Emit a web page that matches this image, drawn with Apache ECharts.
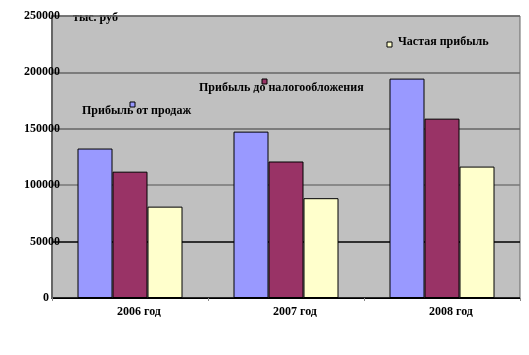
<!DOCTYPE html>
<html><head><meta charset="utf-8">
<script src="https://cdn.jsdelivr.net/npm/echarts@6/dist/echarts.min.js"></script>
<style>html,body{margin:0;padding:0;background:#fff}#c{width:529px;height:355px}</style>
</head><body><div id="c"></div>
<script>
const categories = ['2006 год', '2007 год', '2008 год'];
const seriesNames = ['Прибыль от продаж', 'Прибыль до налогообложения', 'Частая прибыль'];
const salesProfit = [132500, 147500, 194500];
const preTaxProfit = [112000, 121000, 159000];
const netProfit = [81000, 88500, 116500];
const unitLabel = 'тыс. руб';
const colors = ['#9999FF', '#993366', '#FFFFCC'];

const chart = echarts.init(document.getElementById('c'));
const font = 'Liberation Serif';
const mkSeries = (name, data, color) => ({
  name, type: 'bar', data, barWidth: 35, barGap: '0%',
  itemStyle: { color, borderColor: '#000', borderWidth: 1 }
});
chart.setOption({
  animation: false,
  grid: { left: 52, right: 9, top: 16, bottom: 57, show: true, backgroundColor: '#C0C0C0', borderColor: '#666', borderWidth: 1 },
  xAxis: {
    type: 'category', data: categories,
    axisLine: { lineStyle: { color: '#000', width: 1 } },
    axisTick: { show: true, length: 3, lineStyle: { color: '#888' } },
    axisLabel: { fontFamily: font, fontWeight: 'bold', fontSize: 12, color: '#000', margin: 8, padding: [0, 0, 0, 18] }
  },
  yAxis: {
    type: 'value', min: 0, max: 250000, interval: 50000,
    axisLine: { show: true, lineStyle: { color: '#666', width: 2 } },
    axisTick: { show: false },
    axisLabel: {
      fontFamily: font, fontWeight: 'bold', fontSize: 12, color: '#000', margin: -8,
      formatter: v => v === 0 ? '{z|0}' : '{n|' + v + '}',
      rich: {
        z: { fontFamily: font, fontWeight: 'bold', fontSize: 12, color: '#000', padding: [0, 11, 0, 0] },
        n: { fontFamily: font, fontWeight: 'bold', fontSize: 12, color: '#000' }
      }
    },
    splitLine: { lineStyle: { color: ['#000', '#000', '#777', '#666', '#666', '#666'], width: 1.5 } }
  },
  series: [
    mkSeries(seriesNames[0], salesProfit, colors[0]),
    mkSeries(seriesNames[1], preTaxProfit, colors[1]),
    mkSeries(seriesNames[2], netProfit, colors[2])
  ],
  graphic: [
    { type: 'text', left: 73, top: 12, style: { text: unitLabel, font: 'bold 12px "Liberation Serif"', fill: '#000' } },
    { type: 'rect', shape: { x: 130, y: 102, width: 5, height: 5 }, style: { fill: colors[0], stroke: '#000', lineWidth: 1 } },
    { type: 'text', left: 82, top: 105, style: { text: seriesNames[0], font: 'bold 12px "Liberation Serif"', fill: '#000' } },
    { type: 'rect', shape: { x: 262, y: 79, width: 5, height: 5 }, style: { fill: colors[1], stroke: '#000', lineWidth: 1 } },
    { type: 'text', left: 199, top: 82, style: { text: seriesNames[1], font: 'bold 12px "Liberation Serif"', fill: '#000' } },
    { type: 'rect', shape: { x: 387, y: 42, width: 5, height: 5 }, style: { fill: colors[2], stroke: '#000', lineWidth: 1 } },
    { type: 'text', left: 398, top: 36, style: { text: seriesNames[2], font: 'bold 12px "Liberation Serif"', fill: '#000' } }
  ]
});
</script></body></html>
